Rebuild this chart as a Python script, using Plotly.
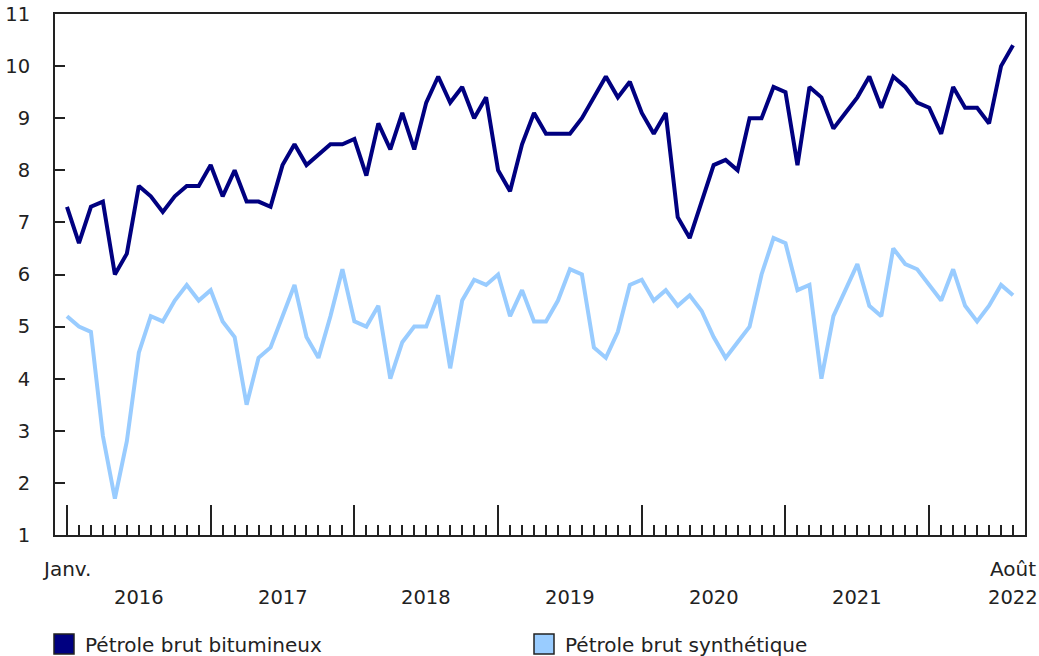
import plotly.graph_objects as go

# ---- data -------------------------------------------------------------
years = ["2016", "2017", "2018", "2019", "2020", "2021", "2022"]
n_months = 80  # janvier 2016 à août 2022

bitumineux = [
    7.3, 6.6, 7.3, 7.4, 6.0, 6.4, 7.7, 7.5, 7.2, 7.5, 7.7, 7.7,   # 2016
    8.1, 7.5, 8.0, 7.4, 7.4, 7.3, 8.1, 8.5, 8.1, 8.3, 8.5, 8.5,   # 2017
    8.6, 7.9, 8.9, 8.4, 9.1, 8.4, 9.3, 9.8, 9.3, 9.6, 9.0, 9.4,   # 2018
    8.0, 7.6, 8.5, 9.1, 8.7, 8.7, 8.7, 9.0, 9.4, 9.8, 9.4, 9.7,   # 2019
    9.1, 8.7, 9.1, 7.1, 6.7, 7.4, 8.1, 8.2, 8.0, 9.0, 9.0, 9.6,   # 2020
    9.5, 8.1, 9.6, 9.4, 8.8, 9.1, 9.4, 9.8, 9.2, 9.8, 9.6, 9.3,   # 2021
    9.2, 8.7, 9.6, 9.2, 9.2, 8.9, 10.0, 10.4,                     # 2022
]
synthetique = [
    5.2, 5.0, 4.9, 2.9, 1.7, 2.8, 4.5, 5.2, 5.1, 5.5, 5.8, 5.5,   # 2016
    5.7, 5.1, 4.8, 3.5, 4.4, 4.6, 5.2, 5.8, 4.8, 4.4, 5.2, 6.1,   # 2017
    5.1, 5.0, 5.4, 4.0, 4.7, 5.0, 5.0, 5.6, 4.2, 5.5, 5.9, 5.8,   # 2018
    6.0, 5.2, 5.7, 5.1, 5.1, 5.5, 6.1, 6.0, 4.6, 4.4, 4.9, 5.8,   # 2019
    5.9, 5.5, 5.7, 5.4, 5.6, 5.3, 4.8, 4.4, 4.7, 5.0, 6.0, 6.7,   # 2020
    6.6, 5.7, 5.8, 4.0, 5.2, 5.7, 6.2, 5.4, 5.2, 6.5, 6.2, 6.1,   # 2021
    5.8, 5.5, 6.1, 5.4, 5.1, 5.4, 5.8, 5.6,                       # 2022
]
series_names = ["Pétrole brut bitumineux", "Pétrole brut synthétique"]
y_ticks = [1, 2, 3, 4, 5, 6, 7, 8, 9, 10, 11]

# ---- styling ----------------------------------------------------------
DARK = "#000080"
LIGHT = "#99CCFF"
AXIS = "#222222"
TXT = "#222222"
FONT = "DejaVu Sans"
FS_NUM = 19.5
FS_TXT = 20

W, H = 1039, 656
ML, MR, MT, MB = 55, 14, 14, 121
PW = W - ML - MR
PH = H - MT - MB

x = list(range(n_months))

fig = go.Figure()
fig.add_trace(go.Scatter(x=x, y=bitumineux, mode="lines", name=series_names[0],
                         line=dict(color=DARK, width=4), showlegend=False))
fig.add_trace(go.Scatter(x=x, y=synthetique, mode="lines", name=series_names[1],
                         line=dict(color=LIGHT, width=4), showlegend=False))

fig.update_layout(
    width=W, height=H,
    margin=dict(l=ML, r=MR, t=MT, b=MB, pad=0, autoexpand=False),
    plot_bgcolor="white", paper_bgcolor="white",
    font=dict(family=FONT, size=FS_NUM, color=TXT),
    showlegend=False,
)

fig.update_xaxes(
    range=[-1, n_months], automargin=False,
    showgrid=False, zeroline=False,
    showline=True, linecolor=AXIS, linewidth=2, mirror=True,
    tickmode="array", tickvals=list(range(0, n_months, 12)),
    ticks="inside", ticklen=30, tickwidth=1.5, tickcolor=AXIS,
    showticklabels=False,
    minor=dict(ticks="inside", ticklen=10, tickwidth=1.5, tickcolor=AXIS,
               tick0=0, dtick=1, showgrid=False),
)
fig.update_yaxes(
    range=[1, 11], automargin=False,
    showgrid=False, zeroline=False,
    showline=True, linecolor=AXIS, linewidth=2, mirror=True,
    tickmode="array", tickvals=y_ticks, ticktext=[str(v) for v in y_ticks],
    ticks="inside", ticklen=10, tickwidth=1.5, tickcolor=AXIS,
    ticklabelstandoff=19,
    tickfont=dict(family=FONT, size=FS_NUM, color=TXT),
)

ann = []
ann.append(dict(x=0, y=0, xref="x", yref="paper", text="Janv.", showarrow=False,
                xanchor="center", yanchor="middle", yshift=-34,
                font=dict(family=FONT, size=FS_TXT, color=TXT)))
ann.append(dict(x=n_months - 1, y=0, xref="x", yref="paper", text="Août", showarrow=False,
                xanchor="center", yanchor="middle", yshift=-34,
                font=dict(family=FONT, size=FS_TXT, color=TXT)))
for i, yr in enumerate(years):
    pos = i * 12 + 6 if i < len(years) - 1 else n_months - 1
    ann.append(dict(x=pos, y=0, xref="x", yref="paper", text=yr, showarrow=False,
                    xanchor="center", yanchor="middle", yshift=-62,
                    font=dict(family=FONT, size=FS_NUM, color=TXT)))

# legend (boxes + labels), positions given in page pixels
legend_x = [54, 534]
colors = [DARK, LIGHT]
shapes = []
for lx, col, name in zip(legend_x, colors, series_names):
    shapes.append(dict(type="rect", xref="paper", yref="paper",
                       x0=(lx - ML) / PW, x1=(lx + 20 - ML) / PW,
                       y0=-(654 - (MT + PH)) / PH, y1=-(634 - (MT + PH)) / PH,
                       fillcolor=col, line=dict(color=AXIS, width=1.5)))
    ann.append(dict(x=(lx + 29 - ML) / PW, y=-(645 - (MT + PH)) / PH,
                    xref="paper", yref="paper",
                    text=name, showarrow=False, xanchor="left", yanchor="middle",
                    font=dict(family=FONT, size=FS_TXT, color=TXT)))

fig.update_layout(annotations=ann, shapes=shapes)

fig.write_html(
    "out.html",
    config={"displayModeBar": False},
    post_script="document.body.style.margin='0';document.body.style.overflow='hidden';",
)
